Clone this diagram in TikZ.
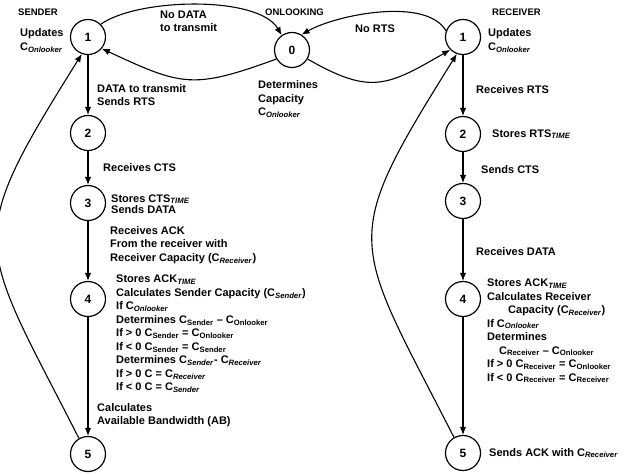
\documentclass[tikz,border=0pt]{standalone}
\usepackage{fontspec}
\setmainfont{Liberation Sans}
\usetikzlibrary{arrows.meta}
\newcommand{\isub}[1]{\textsubscript{\textit{#1}}}
\newcommand{\usub}[1]{\textsubscript{#1}}
\tikzset{
  stnode/.style={circle, draw, line width=1.2pt, minimum size=35pt, inner sep=0pt,
    font=\bfseries\fontsize{12}{14}\selectfont},
  note/.style={anchor=west, align=left, inner sep=0pt,
    font=\bfseries\fontsize{11}{13.5}\selectfont},
  head/.style={anchor=west, inner sep=0pt, font=\bfseries\fontsize{9.5}{11}\selectfont},
  arr/.style={-{Latex[length=8pt,width=6.5pt]}, line width=1.1pt},
}
\begin{document}
\begin{tikzpicture}[x=1pt,y=1pt]
  \useasboundingbox (0,0) rectangle (632,-473);
  % headings
  \node[head] (sndhead) at (18,-12) {SENDER};
  \node[head] (onlhead) at (265,-12) {ONLOOKING};
  \node[head] (rcvhead) at (492,-12) {RECEIVER};
  % states
  \node[stnode] (o0) at (292,-50) {0};
  \foreach \n/\y in {1/37,2/133,3/203,4/299,5/454}
    \node[stnode] (s\n) at (88,-\y) {\n};
  \foreach \n/\y in {1/37,2/134,3/201,4/299,5/453}
    \node[stnode] (r\n) at (463,-\y) {\n};
  % transitions
  \foreach \a/\b in {1/2,2/3,3/4,4/5} {
    \draw[arr] (s\a) -- (s\b);
    \draw[arr] (r\a) -- (r\b);
  }
  \draw[arr] (s1.45) to[out=35,in=120,looseness=0.65] (o0.125);
  \draw[arr] (o0.210) to[out=200,in=-25,looseness=1.3] (s1.-40);
  \draw[arr] (r1.160) to[out=120,in=30,looseness=0.7] (o0.58);
  \draw[arr] (o0.-30) to[out=-30,in=-150,looseness=1.3] (r1.-135);
  \draw[arr] (s5.120) to[out=117,in=-122,looseness=1.5] (s1.-110);
  \draw[arr] (r5.120) to[out=117,in=-122,looseness=1.5] (r1.-110);
  % texts
  \node[note] (s1txt) at (20,-40.5) {Updates\\C\isub{Onlooker}};
  \node[note] (notx) at (160,-21.5) {No DATA\\to transmit};
  \node[note] (norts) at (355,-29) {No RTS};
  \node[note] (r1txt) at (488,-40.5) {Updates\\C\isub{Onlooker}};
  \node[note] (o0txt) at (258,-99) {Determines\\Capacity\\C\isub{Onlooker}};
  \node[note] (s12txt) at (97,-95) {DATA to transmit\\Sends RTS};
  \node[note] (s23txt) at (103,-168) {Receives CTS};
  \node[note] (s3txt) at (111,-204) {Stores CTS\isub{TIME}\\[-2pt]Sends DATA};
  \node[note] (s34txt) at (110,-245) {Receives ACK\\From the receiver with\\Receiver Capacity (C\isub{Receiver})};
  \node[note] (s4txt) at (116,-334) {Stores ACK\isub{TIME}\\
    Calculates Sender Capacity (C\isub{Sender})\\
    If C\isub{Onlooker}\\
    Determines C\usub{Sender} -- C\usub{Onlooker}\\
    If > 0 C\usub{Sender} = C\usub{Onlooker}\\
    If < 0 C\usub{Sender} = C\usub{Sender}\\
    Determines C\isub{Sender}- C\isub{Receiver}\\
    If > 0 C = C\isub{Receiver}\\
    If < 0 C = C\isub{Sender}};
  \node[note] (s45txt) at (97,-415) {Calculates\\Available Bandwidth (AB)};
  \node[note] (r12txt) at (476,-90) {Receives RTS};
  \node[note] (r2txt) at (492,-134) {Stores RTS\isub{TIME}};
  \node[note] (r23txt) at (481,-170) {Sends CTS};
  \node[note] (r34txt) at (476,-252) {Receives DATA};
  \node[note] (r4txt) at (487,-331) {Stores ACK\isub{TIME}\\
    Calculates Receiver\\
    \hspace*{21pt}Capacity (C\isub{Receiver})\\
    If C\isub{Onlooker}\\
    Determines\\
    \hspace*{12pt}C\usub{Receiver} -- C\usub{Onlooker}\\
    If > 0 C\usub{Receiver} = C\usub{Onlooker}\\
    If < 0 C\usub{Receiver} = C\usub{Receiver}};
  \node[note] (r5txt) at (489,-453) {Sends ACK with C\isub{Receiver}};
\end{tikzpicture}
\end{document}
